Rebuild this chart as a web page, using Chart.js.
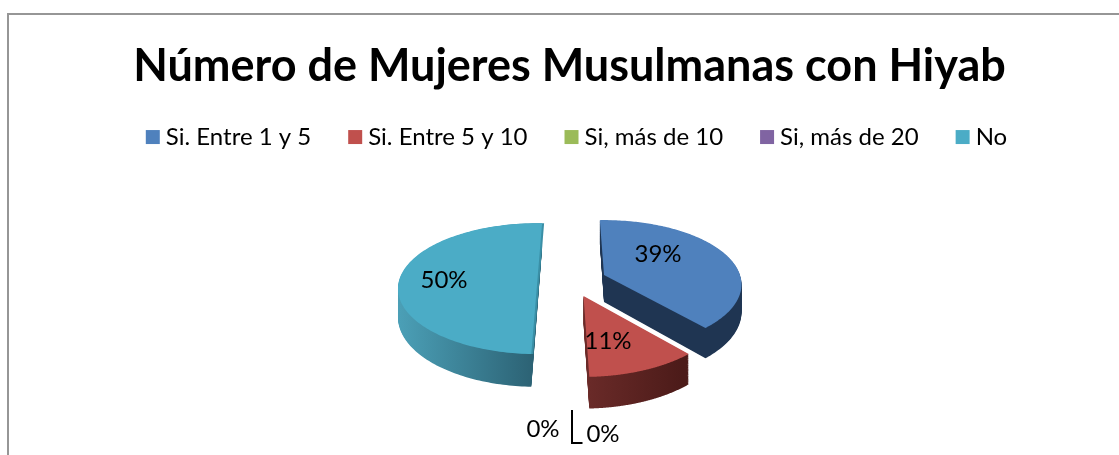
<!DOCTYPE html>
<html><head><meta charset="utf-8">
<style>
html,body{margin:0;padding:0;background:#fff;width:1119px;height:455px;overflow:hidden}
#frame{position:absolute;left:7px;top:13px;width:1112px;height:442px;border-left:2px solid #969696;border-top:2px solid #969696;box-sizing:border-box}
#wrap{position:absolute;left:0;top:0;width:1119px;height:455px}
</style>
<script src="https://cdn.jsdelivr.net/npm/chart.js@4"></script>
</head><body>
<div id="frame"></div>
<div id="wrap"><canvas id="c" width="1119" height="455"></canvas></div>
<script>
const titleText = "Número de Mujeres Musulmanas con Hiyab";
const categories = ["Si. Entre 1 y 5","Si. Entre 5 y 10","Si, más de 10","Si, más de 20","No"];
const seriesValues = [39,11,0,0,50];
const sliceColors = ["#4f81bd","#c0504d","#9bbb59","#8064a2","#4bacc6"];

// 3D look of each slice: explode shift from pie centre, projected radii, wall depth, wall shades
const look = [
 {dx:34.5,dy:-13,A:136,B:63,rot:0,depth:27,wall:["#1f3552","#1f3552"],lab:[88.5,-34]},
 {dx:14,dy:8,A:141,B:69,rot:0,depth:27,wall:["#6b2b29","#4c1b19"],lab:[38.5,53]},
 {lab:[-26.5,141]},
 {lab:[33.5,146]},
 {dx:-32,dy:-9,A:138,B:64,rot:4.2,depth:28,wall:["#4b9fb6","#2b6072"],edge:"#3a8fa6",lab:[-125.5,-8]}
];
const perspective = 0.147;
const drawOrder = [4,0,1];
const labelFont = "24px Lato";
const legendShift = 10;

function wedgePath(ctx,L,ax,ay,a0,a1,t,shiftX){
 const pt = a => {
  const f = 1/(1-perspective*Math.sin(a));
  return [ax+shiftX+L.A*Math.cos(a)*f, ay+L.B*Math.sin(a)*f+t*L.depth*f];
 };
 ctx.beginPath();
 ctx.moveTo(ax+shiftX,ay+t*L.depth);
 const n = 160;
 for(let s=0;s<=n;s++){
  const p = pt(a0+(a1-a0)*s/n);
  ctx.lineTo(p[0],p[1]);
 }
 ctx.closePath();
}

const pie3d = {
 id:"pie3d",
 afterLayout(chart){
  chart.legend.left += legendShift;
  chart.legend.right += legendShift;
 },
 beforeDatasetDraw(chart,args){
  const ctx = chart.ctx, arcs = args.meta.data;
  drawOrder.forEach(i=>{
   const arc = arcs[i], L = look[i];
   const {x,y,startAngle,endAngle} = arc.getProps(["x","y","startAngle","endAngle"],true);
   const ax = x+L.dx, ay = y+L.dy, rot = L.rot*Math.PI/180, a0 = startAngle+rot, a1 = endAngle+rot;
   const g = i===1 ? ctx.createLinearGradient(ax,0,ax+L.A*.7,0) : ctx.createLinearGradient(ax-L.A,0,ax+(i===4?0:L.A),0);
   g.addColorStop(0,L.wall[0]); g.addColorStop(1,L.wall[1]);
   ctx.save();
   ctx.fillStyle = g;
   const layers = Math.ceil(L.depth*1.3);
   for(let s=layers;s>=1;s--){
    wedgePath(ctx,L,ax,ay,a0,a1,s/layers,0);
    ctx.fill();
   }
   if(L.edge){
    ctx.fillStyle=L.edge;
    wedgePath(ctx,L,ax,ay,a0,a1,0,2);
    ctx.fill();
   }
   ctx.fillStyle = arc.options.backgroundColor;
   wedgePath(ctx,L,ax,ay,a0,a1,0,0);
   ctx.fill();
   ctx.restore();
  });
  return false;
 },
 afterDatasetsDraw(chart){
  const ctx = chart.ctx, arc = chart.getDatasetMeta(0).data[0];
  const {x,y} = arc.getProps(["x","y"],true);
  const total = seriesValues.reduce((a,b)=>a+b,0);
  ctx.save();
  ctx.fillStyle="#000";
  ctx.font=labelFont;
  ctx.textAlign="center";
  ctx.textBaseline="middle";
  seriesValues.forEach((v,i)=>{
   const L=look[i];
   ctx.fillText(Math.round(v/total*100)+"%",x+L.lab[0],y+L.lab[1]);
  });
  ctx.strokeStyle="#000";
  ctx.lineWidth=2;
  ctx.beginPath();
  ctx.moveTo(x+2.5,y+122);
  ctx.lineTo(x+2.5,y+155);
  ctx.lineTo(x+13,y+155);
  ctx.stroke();
  ctx.restore();
 }
};

new Chart(document.getElementById("c"),{
 type:"pie",
 data:{labels:categories,datasets:[{data:seriesValues,backgroundColor:sliceColors,borderWidth:0}]},
 plugins:[pie3d],
 options:{
  responsive:false,animation:false,rotation:-2,
  layout:{padding:{left:20,right:0,top:0,bottom:38}},
  plugins:{
   tooltip:{enabled:false},
   title:{display:true,text:titleText,color:"#000",font:{family:"Lato",size:45,weight:"bold",lineHeight:.69},padding:{top:51,bottom:0}},
   legend:{position:"top",labels:{
     font:{family:"Lato",size:24},color:"#000",boxWidth:2,boxHeight:2,padding:43,
     generateLabels(chart){
      return categories.map((t,i)=>({text:t,fillStyle:sliceColors[i],strokeStyle:sliceColors[i],lineWidth:12,lineJoin:"miter",hidden:false,index:i,fontColor:"#000"}));
     }
   }}
  }
 }
});
</script>
</body></html>
